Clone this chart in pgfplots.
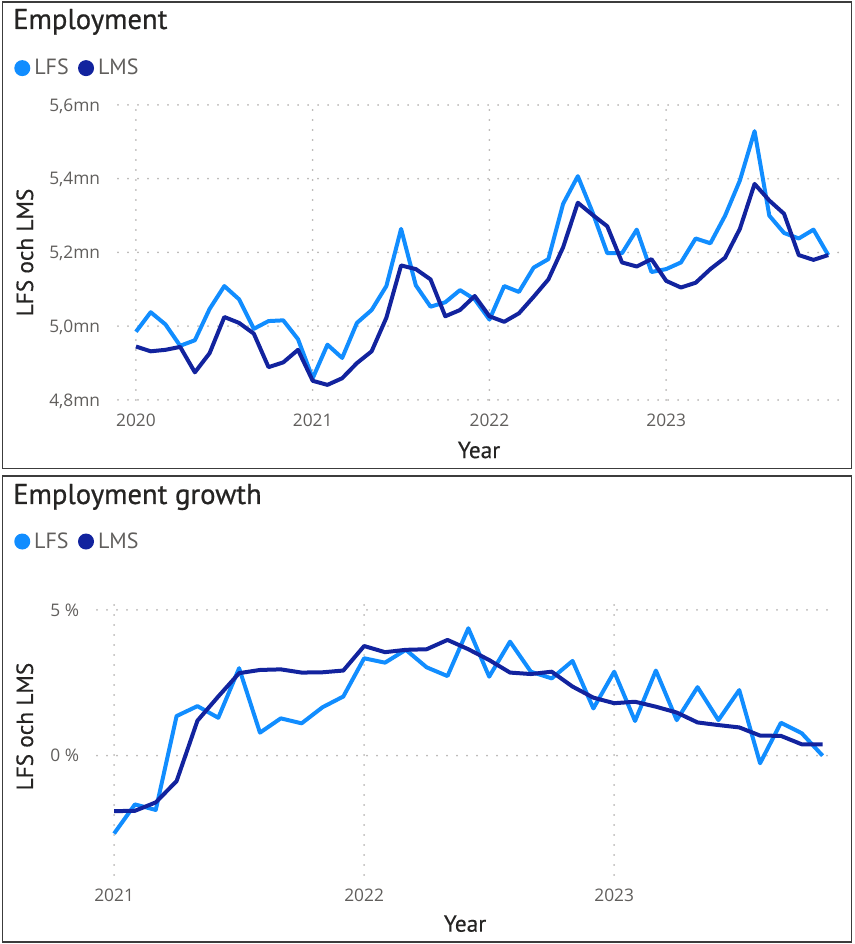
\documentclass[border=0pt]{standalone}
\usepackage{pgfplots}
\pgfplotsset{compat=1.18}
\usepackage{fontspec}
\setmainfont{PT Sans}
\newfontfamily\tickfont{Open Sans}
\newfontfamily\titlefont[FakeBold=0.7]{PT Sans}
\newfontfamily\labelfont[FakeBold=0.35]{PT Sans}
\definecolor{lfs}{HTML}{118DFF}
\definecolor{lms}{HTML}{12239E}
\definecolor{ttl}{HTML}{252423}
\definecolor{tck}{HTML}{605E5C}
\definecolor{grd}{HTML}{B8B6B4}
\definecolor{frm}{HTML}{3C3C3C}

\pgfplotstableread{
x y
0 4.985
1 5.038
2 5.005
3 4.947
4 4.962
5 5.047
6 5.109
7 5.073
8 4.993
9 5.014
10 5.016
11 4.965
12 4.859
13 4.950
14 4.914
15 5.009
16 5.044
17 5.109
18 5.264
19 5.111
20 5.053
21 5.065
22 5.098
23 5.073
24 5.018
25 5.109
26 5.093
27 5.159
28 5.182
29 5.332
30 5.407
31 5.309
32 5.198
33 5.198
34 5.262
35 5.147
36 5.155
37 5.173
38 5.238
39 5.225
40 5.300
41 5.395
42 5.529
43 5.300
44 5.253
45 5.238
46 5.262
47 5.193
}\lfslevel

\pgfplotstableread{
x y
0 4.945
1 4.932
2 4.936
3 4.944
4 4.875
5 4.927
6 5.025
7 5.009
8 4.980
9 4.889
10 4.902
11 4.936
12 4.852
13 4.841
14 4.859
15 4.900
16 4.932
17 5.023
18 5.165
19 5.155
20 5.127
21 5.027
22 5.044
23 5.082
24 5.027
25 5.012
26 5.035
27 5.080
28 5.127
29 5.214
30 5.335
31 5.302
32 5.271
33 5.173
34 5.162
35 5.182
36 5.123
37 5.105
38 5.118
39 5.155
40 5.186
41 5.264
42 5.386
43 5.341
44 5.305
45 5.193
46 5.180
47 5.193
}\lmslevel

\pgfplotstableread{
x y
0 -2.67
1 -1.67
2 -1.86
3 1.36
4 1.70
5 1.30
6 3.00
7 0.79
8 1.28
9 1.11
10 1.66
11 2.03
12 3.34
13 3.19
14 3.63
15 3.03
16 2.73
17 4.37
18 2.71
19 3.91
20 2.88
21 2.65
22 3.25
23 1.62
24 2.88
25 1.19
26 2.92
27 1.22
28 2.35
29 1.22
30 2.25
31 -0.26
32 1.13
33 0.77
34 0.00
}\lfsgrowth

\pgfplotstableread{
x y
0 -1.90
1 -1.89
2 -1.60
3 -0.87
4 1.20
5 2.03
6 2.83
7 2.94
8 2.96
9 2.85
10 2.86
11 2.92
12 3.76
13 3.55
14 3.63
15 3.65
16 3.97
17 3.65
18 3.28
19 2.85
20 2.80
21 2.88
22 2.37
23 1.99
24 1.80
25 1.85
26 1.68
27 1.48
28 1.14
29 1.05
30 0.97
31 0.69
32 0.68
33 0.39
34 0.39
}\lmsgrowth

\pgfplotsset{
  legend image code/.code={\fill[#1,draw=none] (6pt,0) circle (6pt);},
  pbi/.style={
    scale only axis,
    axis line style={draw=none},
    major tick length=0pt,
    xmajorgrids, ymajorgrids,
    major grid style={grd, line width=1.5pt, line cap=round, dash pattern=on 0pt off 7.5pt},
    xticklabel style={font=\tickfont\fontsize{13}{13}\selectfont, text=tck, anchor=base, inner sep=0pt, yshift=-20.2pt},
    yticklabel style={font=\tickfont\fontsize{13}{13}\selectfont, text=tck, anchor=base east, inner sep=0pt, xshift=-13.2pt, yshift=-4.6pt},
    label style={font=\labelfont\fontsize{17.5}{17.5}\selectfont, text=ttl},
    legend style={draw=none, fill=none, font=\fontsize{16.5}{16.5}\selectfont, text=tck, inner sep=0pt,
      nodes={inner sep=0pt, anchor=west},
      /tikz/every odd column/.append style={column sep=3pt},
      /tikz/every even column/.append style={column sep=7pt}},
    legend columns=2,
    every axis plot/.append style={line width=3pt, line join=round, no markers},
  }
}

\begin{document}
\begin{tikzpicture}
\useasboundingbox (0pt,0pt) rectangle (640.5pt,708pt);
\draw[frm, line width=1.4pt] (1.875pt,706.5pt) rectangle (638.625pt,356.625pt);
\draw[frm, line width=1.4pt] (1.875pt,351pt) rectangle (638.625pt,1.5pt);
\node[anchor=base west, inner sep=0pt, font=\titlefont\fontsize{21.5}{21.5}\selectfont, text=ttl] at (9.75pt,686.25pt) {Employment};
\node[anchor=base west, inner sep=0pt, font=\titlefont\fontsize{21.5}{21.5}\selectfont, text=ttl] at (9.75pt,330pt) {Employment growth};

\begin{axis}[pbi,
  at={(88.5pt,408pt)}, anchor=south west,
  width=541.5pt, height=221.25pt,
  xmin=-1.22, xmax=47.8, ymin=4.8, ymax=5.6,
  xtick={0,12,24,36}, xticklabels={2020,2021,2022,2023},
  ytick={4.8,5.0,5.2,5.4,5.6},
  yticklabels={{4,8mn},{5,0mn},{5,2mn},{5,4mn},{5,6mn}},
  xlabel={Year}, ylabel={LFS och LMS},
  xlabel style={at={(axis description cs:0.5,-0.197)}, anchor=base},
  ylabel style={at={(axis description cs:-0.1177,0.5)}, anchor=base},
  legend style={at={(axis description cs:-0.144,1.125)}, anchor=west},
]
\addplot[color=lfs] table[x=x,y=y] {\lfslevel};
\addlegendentry{LFS}
\addplot[color=lms] table[x=x,y=y] {\lmslevel};
\addlegendentry{LMS}
\end{axis}

\begin{axis}[pbi,
  at={(72.75pt,51.75pt)}, anchor=south west,
  width=552pt, height=210pt,
  xmin=-0.82, xmax=34.5, ymin=-4.09, ymax=5.51,
  xtick={0,12,24}, xticklabels={2021,2022,2023},
  ytick={0,5},
  yticklabels={{0 \%},{5 \%}},
  xlabel={Year}, ylabel={LFS och LMS},
  xlabel style={at={(axis description cs:0.5,-0.2025)}, anchor=base},
  ylabel style={at={(axis description cs:-0.087,0.53)}, anchor=base},
  legend style={at={(axis description cs:-0.1128,1.191)}, anchor=west},
]
\addplot[color=lfs] table[x=x,y=y] {\lfsgrowth};
\addlegendentry{LFS}
\addplot[color=lms] table[x=x,y=y] {\lmsgrowth};
\addlegendentry{LMS}
\end{axis}
\end{tikzpicture}
\end{document}
